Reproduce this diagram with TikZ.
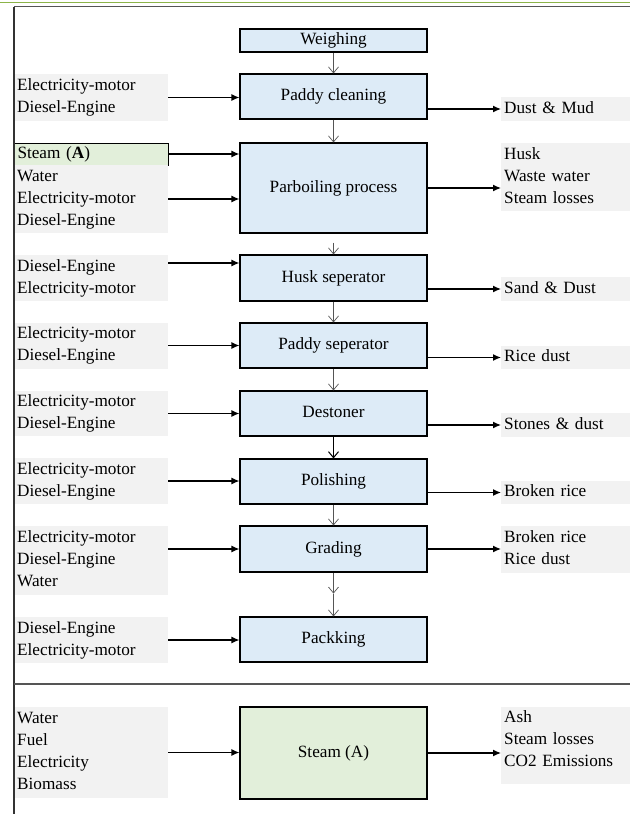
\documentclass[tikz,border=0pt]{standalone}
\usepackage{fontspec}
\setmainfont{Liberation Serif}
\usetikzlibrary{arrows.meta}
\definecolor{procblue}{HTML}{DDEBF7}
\definecolor{procgreen}{HTML}{E2EFDA}
\definecolor{boxgray}{HTML}{F2F2F2}
\definecolor{framegreen}{HTML}{8CB449}
\definecolor{framegray}{HTML}{555555}
\begin{document}
\begin{tikzpicture}[x=1pt,y=-1pt, font={\fontsize{17.2}{22}\selectfont},
 proc/.style={draw=black, fill=procblue, line width=1.1pt, minimum width=187pt, inner sep=0pt, execute at begin node=\strut},
 inbox/.style={fill=boxgray, inner xsep=3pt, inner ysep=0pt, text width=148pt, align=left, anchor=west, execute at begin node=\strut, execute at end node=\strut},
 outbox/.style={fill=boxgray, inner xsep=3pt, inner ysep=0pt, text width=123pt, align=left, anchor=west, execute at begin node=\strut, execute at end node=\strut},
 flow/.style={draw=black, line width=1.3pt, -{Latex[length=8pt,width=7pt]}},
 down/.style={draw=framegray, line width=0.7pt, -{Straight Barb[length=6pt,width=10pt]}},
 frame/.style={draw=framegray, line width=1.4pt}]
\useasboundingbox (0,0) rectangle (630,814);

% process boxes
\node[proc, minimum height=23pt] (wg) at (333.5,40.5) {Weighing};
\node[proc, minimum height=45pt] (pc) at (333.5,96.5) {Paddy cleaning};
\node[proc, minimum height=90pt] (pb) at (333.5,188) {Parboiling process};
\node[proc, minimum height=46pt] (hs) at (333.5,278) {Husk seperator};
\node[proc, minimum height=45pt] (ps) at (333.5,345.5) {Paddy seperator};
\node[proc, minimum height=45pt] (ds) at (333.5,413.5) {Destoner};
\node[proc, minimum height=45pt] (po) at (333.5,481.5) {Polishing};
\node[proc, minimum height=46pt] (gr) at (333.5,549) {Grading};
\node[proc, minimum height=45pt] (pk) at (333.5,639.5) {Packking};
\node[proc, fill=procgreen, minimum height=92pt] (st) at (333.5,753) {Steam (A)};

% inputs
\node[inbox, minimum height=47pt] (i1) at (14,97.5) {Electricity-motor\\Diesel-Engine};
\node[inbox, draw=black, line width=1pt, fill=procgreen, minimum height=22pt] (i2a) at (14,154) {Steam (\textbf{A})};
\node[inbox, minimum height=68pt] (i2) at (14,199) {Water\\Electricity-motor\\Diesel-Engine};
\node[inbox, minimum height=46pt] (i3) at (14,278) {Diesel-Engine\\Electricity-motor};
\node[inbox, minimum height=46pt] (i4) at (14,345.5) {Electricity-motor\\Diesel-Engine};
\node[inbox, minimum height=45pt] (i5) at (14,413.5) {Electricity-motor\\Diesel-Engine};
\node[inbox, minimum height=46pt] (i6) at (14,481) {Electricity-motor\\Diesel-Engine};
\node[inbox, minimum height=69pt] (i7) at (14,560.5) {Electricity-motor\\Diesel-Engine\\Water};
\node[inbox, minimum height=46pt] (i8) at (14,640) {Diesel-Engine\\Electricity-motor};
\node[inbox, minimum height=91pt] (i9) at (14,752.5) {Water\\Fuel\\Electricity\\Biomass};

% outputs
\node[outbox, minimum height=24pt] (o1) at (501,109) {Dust \& Mud};
\node[outbox, minimum height=68pt] (o2) at (501,177) {Husk\\Waste water\\Steam losses};
\node[outbox, minimum height=24pt] (o3) at (501,289) {Sand \& Dust};
\node[outbox, minimum height=23pt] (o4) at (501,357.5) {Rice dust};
\node[outbox, minimum height=24pt] (o5) at (501,425) {Stones \& dust};
\node[outbox, minimum height=23pt] (o6) at (501,492.5) {Broken rice};
\node[outbox, minimum height=47pt] (o7) at (501,549.5) {Broken rice\\Rice dust};
\node[outbox, minimum height=77pt] (o8) at (501,745.5) {Ash\\Steam losses\\CO2 Emissions\rule[-17pt]{0pt}{17pt}};

% input arrows
\draw[flow] (i1.east) -- (pc.west |- i1.east);
\draw[flow] (i2a.east) -- (pb.west |- i2a.east);
\draw[flow] (i2.east) -- (pb.west |- i2.east);
\draw[flow] ([yshift=15pt]i3.east) -- ([yshift=15pt]hs.west);
\draw[flow] (i4.east) -- (ps.west |- i4.east);
\draw[flow] (i5.east) -- (ds.west |- i5.east);
\draw[flow] (i6.east) -- (po.west |- i6.east);
\draw[flow] (i7.east |- gr.west) -- (gr.west);
\draw[flow] (i8.east) -- (pk.west |- i8.east);
\draw[flow] (i9.east) -- (st.west |- i9.east);

% output arrows
\draw[flow] (pc.east |- o1.west) -- (o1.west);
\draw[flow] (pb.east) -- (o2.west |- pb.east);
\draw[flow] (hs.east |- o3.west) -- (o3.west);
\draw[flow] (ps.east |- o4.west) -- (o4.west);
\draw[flow] (ds.east |- o5.west) -- (o5.west);
\draw[flow] (po.east |- o6.west) -- (o6.west);
\draw[flow] (gr.east) -- (o7.west |- gr.east);
\draw[flow] (st.east) -- (o8.west |- st.east);

% main flow
\draw[down] (wg.south) -- (pc.north);
\draw[down] (pc.south) -- (pb.north);
\draw[down] ([yshift=-9pt]pb.south) -- (hs.north);
\draw[down] (hs.south) -- (ps.north);
\draw[down] (ps.south) -- (ds.north);
\draw[down, draw=black, line width=1pt] (ds.south) -- (po.north);
\draw[down] (po.south) -- (gr.north);
\coordinate (gk) at ([yshift=-21pt]gr.south);
\draw[down] (gr.south) -- (gk);
\draw[down] (gk) -- (pk.north);

% frame
\coordinate (gl) at (0,2.5);
\coordinate (gr2) at (630,2.5);
\coordinate (tl) at (14,6.5);
\coordinate (tr) at (630,6.5);
\coordinate (bl) at (14,814);
\coordinate (dl) at (14,684);
\coordinate (dr) at (630,684);
\draw[draw=framegreen, line width=1.5pt] (gl) -- (gr2);
\draw[frame] (tl) -- (tr);
\draw[frame, draw=black!80, line width=1.2pt] (tl) -- (bl);
\draw[frame] (dl) -- (dr);
\end{tikzpicture}
\end{document}
